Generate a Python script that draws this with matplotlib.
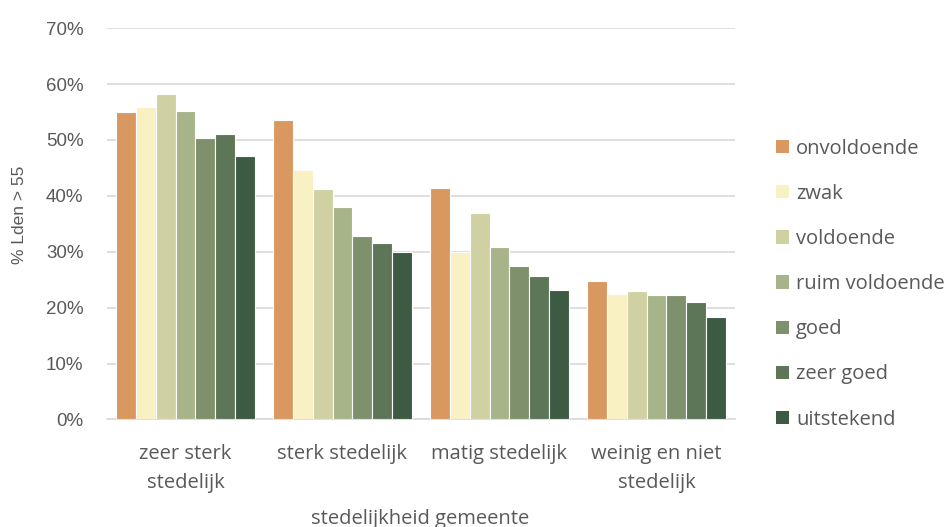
import matplotlib
matplotlib.use("Agg")
from matplotlib import pyplot as plt
from matplotlib.patches import Patch
import numpy as np

plt.rcParams['font.family'] = ['Open Sans', 'DejaVu Sans']

# stedelijkheid per gemeente en beoordeling (aandeel woningen met Lden > 55 dB)
categorieen = ["zeer sterk\nstedelijk", "sterk stedelijk", "matig stedelijk", "weinig en niet\nstedelijk"]
klassen = ["onvoldoende", "zwak", "voldoende", "ruim voldoende", "goed", "zeer goed", "uitstekend"]
onvoldoende = [55.0, 53.5, 41.5, 24.7]
zwak = [55.9, 44.7, 30.0, 22.4]
voldoende = [58.2, 41.2, 36.9, 22.9]
ruim_voldoende = [55.2, 38.0, 30.9, 22.2]
goed = [50.4, 32.9, 27.5, 22.2]
zeer_goed = [51.1, 31.6, 25.6, 21.0]
uitstekend = [47.2, 30.0, 23.1, 18.3]

reeksen = [onvoldoende, zwak, voldoende, ruim_voldoende, goed, zeer_goed, uitstekend]
kleuren = ["#D9985F", "#F9F0C3", "#D0D1A3", "#A7B389", "#7F916C", "#5D7658", "#3D5B42"]
tekstkleur = "#595959"
arial = ['Liberation Sans', 'DejaVu Sans']

fig = plt.figure(figsize=(9.44, 5.27), dpi=100)
ax = fig.add_axes([0.1133, 0.204, 0.6653, 0.7425])

x = np.arange(len(categorieen))
n = len(reeksen)
groep = 0.88
breedte = groep / n
for i, (waarden, kleur) in enumerate(zip(reeksen, kleuren)):
    ax.bar(x - groep / 2 + breedte * (i + 0.5), waarden, width=breedte,
           color=kleur, edgecolor="white", linewidth=0.8, zorder=3)

ax.set_xlim(-0.5, len(categorieen) - 0.5)
ax.set_ylim(0, 70)
ax.set_yticks(range(0, 71, 10))
ax.set_yticklabels(["{}%".format(v) for v in range(0, 71, 10)], family=arial)
ax.set_xticks(x)
ax.set_xticklabels(categorieen, linespacing=1.6)
ax.grid(axis="y", color="#D9D9D9", linewidth=1.2, zorder=0)
for s in ["top", "right", "left"]:
    ax.spines[s].set_visible(False)
ax.spines["bottom"].set_color("#D9D9D9")
ax.spines["bottom"].set_linewidth(1.2)
ax.tick_params(axis="y", length=0, pad=17, labelsize=13.5, labelcolor=tekstkleur)
ax.tick_params(axis="x", length=0, pad=18, labelsize=14.5, labelcolor=tekstkleur)

fig.text(20 / 944, 1 - 215 / 527, "% Lden > 55", rotation=90, ha="center", va="center",
         fontsize=12.5, color=tekstkleur, family=arial)
fig.text(0.4455, 0.015, "stedelijkheid gemeente", ha="center", va="center",
         fontsize=14.5, color=tekstkleur)

handles = [Patch(facecolor=k, edgecolor="none") for k in kleuren]
fig.legend(handles, klassen, loc="upper left", bbox_to_anchor=(0.822, 0.737),
           frameon=False, fontsize=14.5, labelcolor=tekstkleur,
           handlelength=0.65, handleheight=0.65, handletextpad=0.35,
           labelspacing=1.25, borderaxespad=0, borderpad=0)

fig.savefig("out.png", dpi=100)
